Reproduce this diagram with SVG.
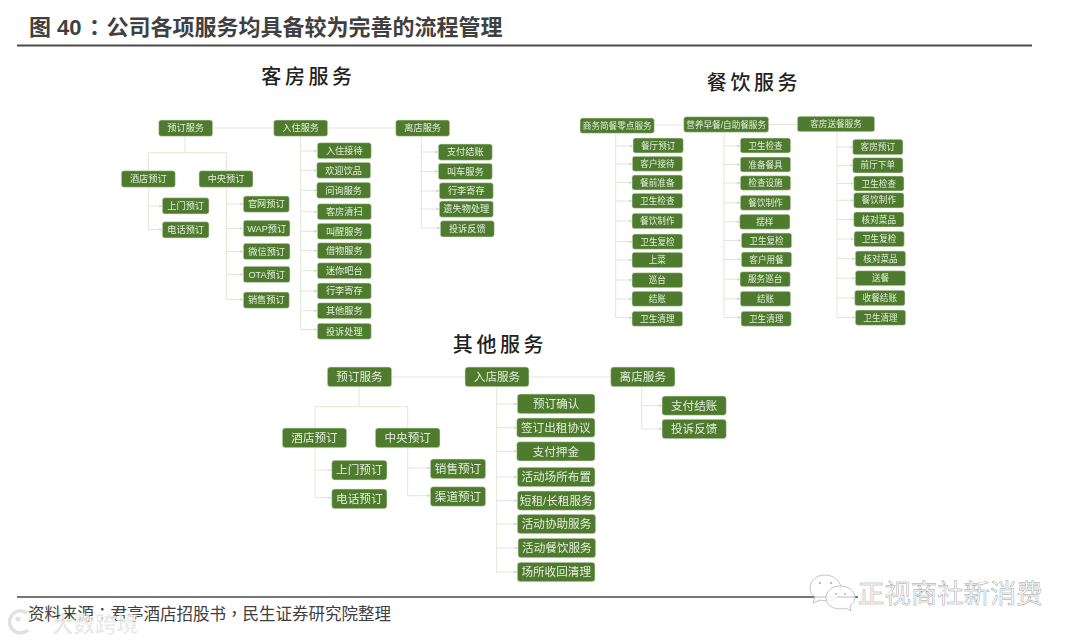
<svg xmlns="http://www.w3.org/2000/svg" width="1080" height="642" viewBox="0 0 1080 642">
<style>
text{font-family:"Liberation Sans","Noto Sans CJK SC",sans-serif}
.n rect{fill:#4e7b2e;stroke:#dce6d2;stroke-width:.6}
.n text{fill:#e6eddf;text-anchor:middle;filter:url(#soft)}
.a text{font-size:9.2px}
.b text{font-size:8.6px}
.c text{font-size:11.6px}
.t{font-size:20px;letter-spacing:3.6px;fill:#222;text-anchor:middle;font-weight:500}
.cn{fill:none;stroke:#dfe7d8;stroke-width:1}
.ar{marker-end:url(#ah)}
.icon{fill:#fff;fill-opacity:.75;stroke:#c4c4c4;stroke-width:1}
.p{font-family:"Noto Sans CJK TC",sans-serif}
</style>
<defs>
<filter id="soft" x="-5%" y="-20%" width="110%" height="140%"><feGaussianBlur stdDeviation=".3"/></filter>
<marker id="ah" markerWidth="4" markerHeight="4" refX="3" refY="2" orient="auto" markerUnits="userSpaceOnUse"><path d="M0 0.5L3 2L0 3.5Z" fill="#cfdac5"/></marker>
</defs>
<rect width="1080" height="642" fill="#fff"/>
<text id="header" x="29" y="35" font-size="22" font-weight="700" fill="#404040">图 40<tspan class="p" dx="2">：</tspan><tspan dx="1">公司各项服务均具备较为完善的流程管理</tspan></text>
<path d="M17 45.500H1032" stroke="#4a4a4a" stroke-width="2" fill="none"/>
<text class="t" x="308.500" y="84">客房服务</text>
<text class="t" x="754" y="90">餐饮服务</text>
<text class="t" x="500" y="352">其他服务</text>

<g id="connectors">
<path class="cn" d="M212.700 128H273.700M327.300 128H395.700M185 136V152.700M148.300 170.700V152.700H226.300V170.700M148.300 187V229.500M226.300 187V299.500M300.700 136V329.500M421.300 136V228"/>
<path class="cn ar" d="M148.300 206H162.300"/><path class="cn ar" d="M148.300 229.500H162.300"/>
<path class="cn ar" d="M226.300 204H243.300"/><path class="cn ar" d="M226.300 228.500H243.300"/><path class="cn ar" d="M226.300 251.500H243.300"/><path class="cn ar" d="M226.300 274.500H243.300"/><path class="cn ar" d="M226.300 299.500H243.300"/>
<path class="cn ar" d="M300.700 151H317.300"/><path class="cn ar" d="M300.700 170.300H316.700"/><path class="cn ar" d="M300.700 190.300H316.700"/><path class="cn ar" d="M300.700 211.700H317.300"/><path class="cn ar" d="M300.700 231.300H317.300"/><path class="cn ar" d="M300.700 250.700H317.300"/><path class="cn ar" d="M300.700 270.700H317.300"/><path class="cn ar" d="M300.700 291H317.300"/><path class="cn ar" d="M300.700 310.700H317.300"/><path class="cn ar" d="M300.700 329.500H317.300"/>
<path class="cn ar" d="M421.300 152H438.300"/><path class="cn ar" d="M421.300 171.500H438.300"/><path class="cn ar" d="M421.300 191H439.300"/><path class="cn ar" d="M421.300 209H439.300"/><path class="cn ar" d="M421.300 228H440.300"/>

<path class="cn" d="M654.300 125H683.700M768.700 124.500H797.300M615.700 133V317.700M724 132V317.500M837 131.500V317.500"/>
<path class="cn ar" d="M615.700 146H633"/><path class="cn ar" d="M615.700 164H632.300"/><path class="cn ar" d="M615.700 182.500H632"/><path class="cn ar" d="M615.700 201H632"/><path class="cn ar" d="M615.700 221H632"/><path class="cn ar" d="M615.700 241.700H632.300"/><path class="cn ar" d="M615.700 260H632"/><path class="cn ar" d="M615.700 280H632"/><path class="cn ar" d="M615.700 299H632"/><path class="cn ar" d="M615.700 317.700H632"/>
<path class="cn ar" d="M724 146H740.300"/><path class="cn ar" d="M724 164.500H740.300"/><path class="cn ar" d="M724 183H740.300"/><path class="cn ar" d="M724 202.800H740.300"/><path class="cn ar" d="M724 221.800H739.700"/><path class="cn ar" d="M724 240.500H741.300"/><path class="cn ar" d="M724 259.500H741.300"/><path class="cn ar" d="M724 279.200H740"/><path class="cn ar" d="M724 298.800H740.300"/><path class="cn ar" d="M724 317.500H741"/>
<path class="cn ar" d="M837 147H852.700"/><path class="cn ar" d="M837 165.300H852.700"/><path class="cn ar" d="M837 183.500H853.700"/><path class="cn ar" d="M837 200.300H853.700"/><path class="cn ar" d="M837 219.500H853.700"/><path class="cn ar" d="M837 239H854"/><path class="cn ar" d="M837 258.700H855.300"/><path class="cn ar" d="M837 278.200H855.300"/><path class="cn ar" d="M837 298H854.700"/><path class="cn ar" d="M837 317.500H855.300"/>

<path class="cn" d="M391.700 377H465M529 377H610.700M359 386.700V406.700M315 428V406.700H407.700V428M315 447.700V497.700M407.700 447.700V495.700M496.700 386.700V573M641.700 386.700V428.700"/>
<path class="cn ar" d="M315 470H331.700"/><path class="cn ar" d="M315 497.700H331.700"/><path class="cn ar" d="M407.700 468H430.300"/><path class="cn ar" d="M407.700 495.700H430.300"/>
<path class="cn ar" d="M496.700 404H517.300"/><path class="cn ar" d="M496.700 427.700H516.700"/><path class="cn ar" d="M496.700 451.300H516.700"/><path class="cn ar" d="M496.700 477H517.300"/><path class="cn ar" d="M496.700 500.700H517.300"/><path class="cn ar" d="M496.700 524H517.300"/><path class="cn ar" d="M496.700 548H518"/><path class="cn ar" d="M496.700 572H517.300"/>
<path class="cn ar" d="M641.700 405.700H662"/><path class="cn ar" d="M641.700 429H662"/>
</g>

<g class="n a">
<g id="r1"><rect x="158.700" y="120" width="54" height="16.300" rx="2.500"/><text x="185.700" y="131.300">预订服务</text></g>
<g id="r2"><rect x="273.700" y="120" width="54" height="16.300" rx="2.500"/><text x="300.700" y="131.300">入住服务</text></g>
<g id="r3"><rect x="395.700" y="120" width="54" height="16.300" rx="2.500"/><text x="422.700" y="131.300">离店服务</text></g>
<g id="r4"><rect x="121.300" y="170.700" width="54" height="16.600" rx="2.500"/><text x="148.300" y="182.200">酒店预订</text></g>
<g id="r5"><rect x="199" y="170.700" width="54" height="16.600" rx="2.500"/><text x="226" y="182.200">中央预订</text></g>
<g id="r6"><rect x="162.300" y="197.700" width="46.700" height="16.300" rx="2.500"/><text x="185.700" y="209">上门预订</text></g>
<g id="r7"><rect x="162.300" y="221.700" width="46.700" height="16.300" rx="2.500"/><text x="185.700" y="233">电话预订</text></g>
<g id="r8"><rect x="243.300" y="196" width="46" height="16.300" rx="2.500"/><text x="266.300" y="207.300">官网预订</text></g>
<g id="r9"><rect x="243.300" y="220.300" width="46.700" height="16.300" rx="2.500"/><text x="266.700" y="231.600">WAP预订</text></g>
<g id="r10"><rect x="243.300" y="243.300" width="46.700" height="16.300" rx="2.500"/><text x="266.700" y="254.600">微信预订</text></g>
<g id="r11"><rect x="243.300" y="266.300" width="46.700" height="16.300" rx="2.500"/><text x="266.700" y="277.600">OTA预订</text></g>
<g id="r12"><rect x="243.300" y="292" width="46" height="16.300" rx="2.500"/><text x="266.300" y="303.300">销售预订</text></g>
<g id="r13"><rect x="317.300" y="142.700" width="54" height="16" rx="2.500"/><text x="344.300" y="153.900">入住接待</text></g>
<g id="r14"><rect x="316.700" y="162.300" width="54" height="16" rx="2.500"/><text x="343.700" y="173.500">欢迎饮品</text></g>
<g id="r15"><rect x="316.700" y="182.300" width="54" height="16" rx="2.500"/><text x="343.700" y="193.500">问询服务</text></g>
<g id="r16"><rect x="317.300" y="203.700" width="54" height="16" rx="2.500"/><text x="344.300" y="214.900">客房清扫</text></g>
<g id="r17"><rect x="317.300" y="223.300" width="54" height="16" rx="2.500"/><text x="344.300" y="234.500">叫醒服务</text></g>
<g id="r18"><rect x="317.300" y="242.700" width="54" height="16" rx="2.500"/><text x="344.300" y="253.900">借物服务</text></g>
<g id="r19"><rect x="317.300" y="262.700" width="54" height="16" rx="2.500"/><text x="344.300" y="273.900">迷你吧台</text></g>
<g id="r20"><rect x="317.300" y="283" width="54" height="16" rx="2.500"/><text x="344.300" y="294.200">行李寄存</text></g>
<g id="r21"><rect x="317.300" y="302.700" width="54" height="16" rx="2.500"/><text x="344.300" y="313.900">其他服务</text></g>
<g id="r22"><rect x="317.300" y="323.300" width="54" height="16" rx="2.500"/><text x="344.300" y="334.500">投诉处理</text></g>
<g id="r23"><rect x="438.300" y="144" width="54" height="16.300" rx="2.500"/><text x="465.300" y="155.300">支付结账</text></g>
<g id="r24"><rect x="438.300" y="163.300" width="54" height="16.300" rx="2.500"/><text x="465.300" y="174.600">叫车服务</text></g>
<g id="r25"><rect x="439.300" y="182.700" width="54" height="16.300" rx="2.500"/><text x="466.300" y="194">行李寄存</text></g>
<g id="r26"><rect x="439.300" y="201" width="54" height="16.300" rx="2.500"/><text x="466.300" y="212.300">遗失物处理</text></g>
<g id="r27"><rect x="440.300" y="220.700" width="54" height="16.300" rx="2.500"/><text x="467.300" y="232">投诉反馈</text></g>
</g>

<g class="n b">
<g id="f1"><rect x="580" y="118" width="74.300" height="15.300" rx="2.500"/><text x="617.200" y="128.700">商务简餐零点服务</text></g>
<g id="f2"><rect x="683.700" y="116.700" width="85" height="15.600" rx="2.500"/><text x="726.200" y="127.500">营养早餐/自助餐服务</text></g>
<g id="f3"><rect x="797.300" y="116.300" width="77.400" height="15.400" rx="2.500"/><text x="836" y="127">客房送餐服务</text></g>
<g id="f4"><rect x="633" y="138" width="50.300" height="15" rx="2.500"/><text x="658.200" y="148.500">餐厅预订</text></g>
<g id="f5"><rect x="632.300" y="156.300" width="50.400" height="15" rx="2.500"/><text x="657.500" y="166.800">客户接待</text></g>
<g id="f6"><rect x="632" y="175" width="50.700" height="15" rx="2.500"/><text x="657.300" y="185.500">餐前准备</text></g>
<g id="f7"><rect x="632" y="193.300" width="50.700" height="15" rx="2.500"/><text x="657.300" y="203.800">卫生检查</text></g>
<g id="f8"><rect x="632" y="213.300" width="50.700" height="15.400" rx="2.500"/><text x="657.300" y="224">餐饮制作</text></g>
<g id="f9"><rect x="632.300" y="234" width="50.400" height="15.300" rx="2.500"/><text x="657.500" y="244.700">卫生复检</text></g>
<g id="f10"><rect x="632" y="252.300" width="50.700" height="15.400" rx="2.500"/><text x="657.300" y="263">上菜</text></g>
<g id="f11"><rect x="632" y="272.700" width="50.700" height="15" rx="2.500"/><text x="657.300" y="283.200">巡台</text></g>
<g id="f12"><rect x="632" y="291.300" width="50.700" height="15" rx="2.500"/><text x="657.300" y="301.800">结账</text></g>
<g id="f13"><rect x="632" y="311.300" width="50.700" height="15" rx="2.500"/><text x="657.300" y="321.800">卫生清理</text></g>
<g id="f14"><rect x="740.300" y="138" width="50.400" height="15" rx="2.500"/><text x="765.500" y="148.500">卫生检查</text></g>
<g id="f15"><rect x="740.300" y="157" width="50.400" height="15" rx="2.500"/><text x="765.500" y="167.500">准备餐具</text></g>
<g id="f16"><rect x="740.300" y="175.700" width="50.400" height="14.600" rx="2.500"/><text x="765.500" y="186">检查设施</text></g>
<g id="f17"><rect x="740.300" y="195.300" width="50.400" height="15" rx="2.500"/><text x="765.500" y="205.800">餐饮制作</text></g>
<g id="f18"><rect x="739.700" y="214.300" width="50.300" height="15" rx="2.500"/><text x="764.800" y="224.800">摆样</text></g>
<g id="f19"><rect x="741.300" y="233" width="50.400" height="15" rx="2.500"/><text x="766.500" y="243.500">卫生复检</text></g>
<g id="f20"><rect x="741.300" y="252" width="50.400" height="15" rx="2.500"/><text x="766.500" y="262.500">客户用餐</text></g>
<g id="f21"><rect x="740" y="271.700" width="50.300" height="15" rx="2.500"/><text x="765.200" y="282.200">服务巡台</text></g>
<g id="f22"><rect x="740.300" y="291.300" width="50.400" height="15" rx="2.500"/><text x="765.500" y="301.800">结账</text></g>
<g id="f23"><rect x="741" y="311.300" width="50.300" height="15" rx="2.500"/><text x="766.200" y="321.800">卫生清理</text></g>
<g id="f24"><rect x="852.700" y="139.300" width="50.300" height="15.400" rx="2.500"/><text x="877.800" y="150">客房预订</text></g>
<g id="f25"><rect x="852.700" y="157.700" width="50.300" height="15.300" rx="2.500"/><text x="877.800" y="168.400">前厅下单</text></g>
<g id="f26"><rect x="853.700" y="176" width="50.300" height="15" rx="2.500"/><text x="878.800" y="186.500">卫生检查</text></g>
<g id="f27"><rect x="853.700" y="192.700" width="50.300" height="15.300" rx="2.500"/><text x="878.800" y="203.400">餐饮制作</text></g>
<g id="f28"><rect x="853.700" y="212" width="50.300" height="15" rx="2.500"/><text x="878.800" y="222.500">核对菜品</text></g>
<g id="f29"><rect x="854" y="231.300" width="50.300" height="15.400" rx="2.500"/><text x="879.200" y="242">卫生复检</text></g>
<g id="f30"><rect x="855.300" y="251" width="50.400" height="15.300" rx="2.500"/><text x="880.500" y="261.700">核对菜品</text></g>
<g id="f31"><rect x="855.300" y="270.700" width="50.400" height="15" rx="2.500"/><text x="880.500" y="281.200">送餐</text></g>
<g id="f32"><rect x="854.700" y="290.300" width="50.300" height="15.400" rx="2.500"/><text x="879.800" y="301">收餐结账</text></g>
<g id="f33"><rect x="855.300" y="310" width="50.400" height="15.300" rx="2.500"/><text x="880.500" y="320.700">卫生清理</text></g>
</g>

<g class="n c">
<g id="o1"><rect x="327.300" y="367" width="64.400" height="19.700" rx="3"/><text x="359.500" y="381">预订服务</text></g>
<g id="o2"><rect x="465" y="367" width="64" height="19.700" rx="3"/><text x="497" y="381">入店服务</text></g>
<g id="o3"><rect x="610.700" y="367" width="64.300" height="19.700" rx="3"/><text x="642.800" y="381">离店服务</text></g>
<g id="o4"><rect x="282.300" y="428" width="64.400" height="19.700" rx="3"/><text x="314.500" y="442">酒店预订</text></g>
<g id="o5"><rect x="375.300" y="428" width="64.700" height="19.700" rx="3"/><text x="407.700" y="442">中央预订</text></g>
<g id="o6"><rect x="331.700" y="460.300" width="55.300" height="19.700" rx="3"/><text x="359.300" y="474.300">上门预订</text></g>
<g id="o7"><rect x="331.700" y="489" width="55.300" height="19.700" rx="3"/><text x="359.300" y="503">电话预订</text></g>
<g id="o8"><rect x="430.300" y="459" width="55.400" height="19.700" rx="3"/><text x="458" y="473">销售预订</text></g>
<g id="o9"><rect x="430.300" y="486.700" width="55.400" height="19.600" rx="3"/><text x="458" y="500.700">渠道预订</text></g>
<g id="o10"><rect x="517.300" y="394" width="77.700" height="19.700" rx="3"/><text x="556.200" y="408">预订确认</text></g>
<g id="o11"><rect x="516.700" y="418" width="78.300" height="19.300" rx="3"/><text x="555.800" y="431.800">签订出租协议</text></g>
<g id="o12"><rect x="516.700" y="441.700" width="78.300" height="19.300" rx="3"/><text x="555.800" y="455.500">支付押金</text></g>
<g id="o13"><rect x="517.300" y="467.300" width="77.700" height="19.400" rx="3"/><text x="556.200" y="481.100">活动场所布置</text></g>
<g id="o14"><rect x="517.300" y="491" width="77.700" height="19.300" rx="3"/><text x="556.200" y="504.800">短租/长租服务</text></g>
<g id="o15"><rect x="517.300" y="514.300" width="78.400" height="19.400" rx="3"/><text x="556.500" y="528.100">活动协助服务</text></g>
<g id="o16"><rect x="518" y="538.300" width="77.700" height="19.400" rx="3"/><text x="556.900" y="552.100">活动餐饮服务</text></g>
<g id="o17"><rect x="517.300" y="562.300" width="77.700" height="19.400" rx="3"/><text x="556.200" y="576.100">场所收回清理</text></g>
<g id="o18"><rect x="662" y="396" width="64.300" height="19.300" rx="3"/><text x="694.200" y="409.800">支付结账</text></g>
<g id="o19"><rect x="662" y="419.300" width="64.300" height="19.400" rx="3"/><text x="694.200" y="433.100">投诉反馈</text></g>
</g>

<path d="M17 597H858" stroke="#4a4a4a" stroke-width="1.600" fill="none"/>
<text id="source" x="28" y="620" font-size="16.500" fill="#404040">资料来源<tspan class="p">：</tspan>君亭酒店招股书<tspan class="p">，</tspan>民生证券研究院整理</text>

<g id="watermark-left">
<path d="M27 613A11 11 0 1 0 28 630" fill="none" stroke="#e2e2e2" stroke-width="3.500"/>
<circle cx="18" cy="619" r="2.500" fill="#e2e2e2"/>
<text x="52" y="632" font-size="21.500" font-weight="700" fill="#e4e4e4" fill-opacity=".85" stroke="#fff" stroke-width=".5">大数跨境</text>
</g>
<g id="watermark-right">
<path class="icon" d="M825 575C816 575 810 581 810 588C810 592 812 595 815 597L813 603L820 600C823 601 828 601 831 600C839 598 842 592 841 587C839 580 833 575 825 575Z"/>
<path class="icon" d="M840 586C831 586 826 592 826 598C826 604 832 609 840 609C842 609 844 609 846 608L851 611L850 606C853 604 855 601 855 598C855 591 849 586 840 586Z"/>
<circle cx="820" cy="583" r="1.200" fill="#bbb"/><circle cx="831" cy="583" r="1.200" fill="#bbb"/><circle cx="836" cy="594" r="1.100" fill="#bbb"/><circle cx="845" cy="594" r="1.100" fill="#bbb"/>
<text x="858" y="603" font-size="26.400" fill="#fff" stroke="#a0a0a0" stroke-width=".5">正视商社新消费</text>
</g>
</svg>
